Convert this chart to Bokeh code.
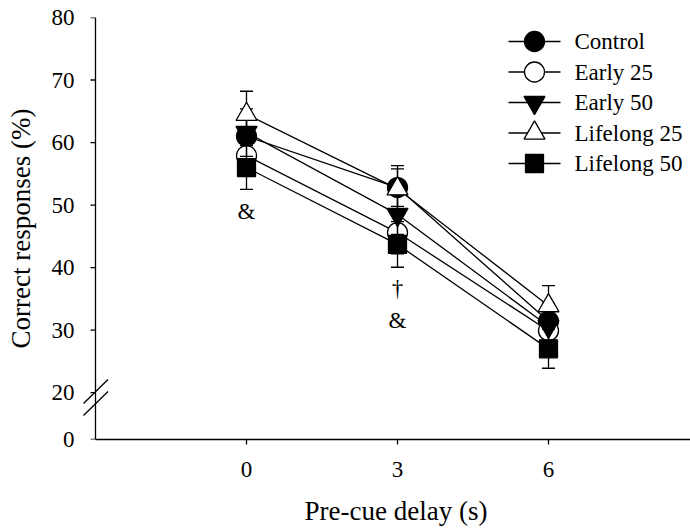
from bokeh.plotting import figure
from bokeh.models import (LinearAxis, FixedTicker, Range1d, PrintfTickFormatter)
from bokeh.core.properties import value
from bokeh.embed import file_html
from bokeh.resources import INLINE

# ---------------- data ----------------
delays = [0, 3, 6]
series_names = ["Control", "Early 25", "Early 50", "Lifelong 25", "Lifelong 50"]

control = [61.0, 52.8, 31.4]
control_sem = [3.2, 3.0, 2.9]
early25 = [57.9, 45.6, 29.9]
early25_sem = [3.3, 3.4, 3.0]
early50 = [61.6, 48.5, 30.6]
early50_sem = [3.8, 3.2, 2.8]
lifelong25 = [64.5, 52.6, 33.9]
lifelong25_sem = [3.7, 3.7, 3.2]
lifelong50 = [56.0, 43.7, 27.0]
lifelong50_sem = [3.5, 3.65, 3.1]

x_ticks = [0, 3, 6]
y_ticks = [20, 30, 40, 50, 60, 70, 80]
y_break_label = "0"

annot_x = [0, 3, 3]
annot_y = [48.9, 36.7, 31.5]
annot_text = ["&", "\u2020", "&"]

x_title = "Pre-cue delay (s)"
y_title = "Correct responses (%)"

# ---------------- layout / style ----------------
FONT = "Liberation Serif"
W, H = 690, 528
FL, FR, FT, FB = 74, 690, 17, 439          # frame edges in px
PXX = 302 / 6                               # px per x unit
YB, YT = 12.5, 80                           # broken-axis "0" position, top
PXY = (FB - FT) / (YT - YB)
X0 = -(246 - FL) / PXX
X1 = X0 + (FR - FL) / PXX
Y_AXIS_X = -3
LW = 1.3

def dx(px):   # px offset -> x units
    return px / PXX

def dy(px):
    return px / PXY

def sx(px):   # absolute px -> x data
    return X0 + (px - FL) / PXX

def sy(py):
    return YB + (FB - py) / PXY

p = figure(width=W, height=H, x_range=Range1d(X0, X1), y_range=Range1d(YB, YT),
           output_backend="svg", toolbar_location=None,
           x_axis_location=None, y_axis_location=None,
           min_border_left=FL, min_border_right=W - FR, min_border_top=FT,
           min_border_bottom=H - FB)
p.outline_line_color = None
p.background_fill_color = "white"
p.grid.visible = False

def style_axis(ax):
    ax.axis_line_color = "black"
    ax.axis_line_width = LW
    ax.major_tick_line_color = "black"
    ax.major_tick_line_width = LW
    ax.major_tick_out = 5
    ax.major_tick_in = 0
    ax.minor_tick_out = 0
    ax.minor_tick_in = 0
    ax.major_label_text_font = FONT
    ax.major_label_text_font_size = "23px"
    ax.major_label_text_color = "black"
    ax.axis_label_text_font = FONT
    ax.axis_label_text_font_size = "27px"
    ax.axis_label_text_font_style = "normal"
    ax.axis_label_text_color = "black"

# leading no-break spaces shift the centred title right, onto the drawn axis span
xaxis = LinearAxis(bounds=(Y_AXIS_X, X1),
                   ticker=FixedTicker(ticks=x_ticks, minor_ticks=[]),
                   axis_label="\u00a0" * 4 + x_title)
style_axis(xaxis)
xaxis.major_label_standoff = 17
xaxis.axis_label_standoff = 16
p.add_layout(xaxis, "below")

y_tick_all = [YB] + y_ticks
overrides = {YB: y_break_label}
for t in y_ticks:
    overrides[t] = str(t)
yaxis = LinearAxis(ticker=FixedTicker(ticks=y_tick_all, minor_ticks=[]),
                   formatter=PrintfTickFormatter(format="%d"),
                   major_label_overrides=overrides,
                   axis_label=y_title)
style_axis(yaxis)
yaxis.axis_line_color = None
yaxis.major_tick_line_color = None
yaxis.major_tick_out = 0
yaxis.major_label_standoff = 0
yaxis.axis_label_standoff = 13
p.add_layout(yaxis, "left")

# y axis line and ticks at the (offset) axis position
p.segment(x0=[Y_AXIS_X], y0=[YB], x1=[Y_AXIS_X], y1=[YT], line_color="black", line_width=LW)
p.segment(x0=[Y_AXIS_X - dx(5)] * len(y_tick_all), y0=y_tick_all,
          x1=[Y_AXIS_X] * len(y_tick_all), y1=y_tick_all, line_color="black", line_width=LW)

# axis break marks (two parallel slashes crossing the axis)
brk_y = [sy(391.0), sy(403.0)]
p.segment(x0=[Y_AXIS_X - dx(12)] * 2, y0=[b - dy(12) for b in brk_y],
          x1=[Y_AXIS_X + dx(12.5)] * 2, y1=[b + dy(12) for b in brk_y],
          line_color="black", line_width=LW)

values = [control, early25, early50, lifelong25, lifelong50]
sems = [control_sem, early25_sem, early50_sem, lifelong25_sem, lifelong50_sem]
markers = [("circle", "black", 20), ("circle", "white", 20), ("inverted_triangle", "black", 21),
           ("triangle", "white", 21), ("square", "black", 18)]

for vals in values:
    p.line(delays, vals, line_color="black", line_width=LW)

for vals, sem, (mk, fill, sz) in zip(values, sems, markers):
    lo = [v - s for v, s in zip(vals, sem)]
    hi = [v + s for v, s in zip(vals, sem)]
    p.segment(x0=delays, y0=lo, x1=delays, y1=hi, line_color="black", line_width=LW)
    p.scatter(x=delays + delays, y=lo + hi, marker="dash", size=13,
              line_color="black", line_width=LW)
    p.scatter(x=delays, y=vals, marker=mk, size=sz, fill_color=fill,
              line_color="black", line_width=LW)

p.text(x=annot_x, y=annot_y, text=annot_text, text_font=value(FONT), text_font_size="23px",
       text_align="center", text_baseline="middle", text_color="black")

# legend (drawn in screen-derived positions)
leg_rows_px = [41, 71.5, 102, 132.5, 163]
leg_y = [sy(r) for r in leg_rows_px]
p.segment(x0=[sx(508)] * 5, y0=leg_y, x1=[sx(560)] * 5, y1=leg_y,
          line_color="black", line_width=LW)
for ly, (mk, fill, sz) in zip(leg_y, markers):
    p.scatter(x=[sx(534)], y=[ly], marker=mk, size=sz, fill_color=fill,
              line_color="black", line_width=LW)
p.text(x=[sx(574)] * 5, y=leg_y, text=series_names, text_font=value(FONT),
       text_font_size="23px", text_align="left", text_baseline="middle", text_color="black")

open("out.html", "w").write(file_html(p, INLINE))
